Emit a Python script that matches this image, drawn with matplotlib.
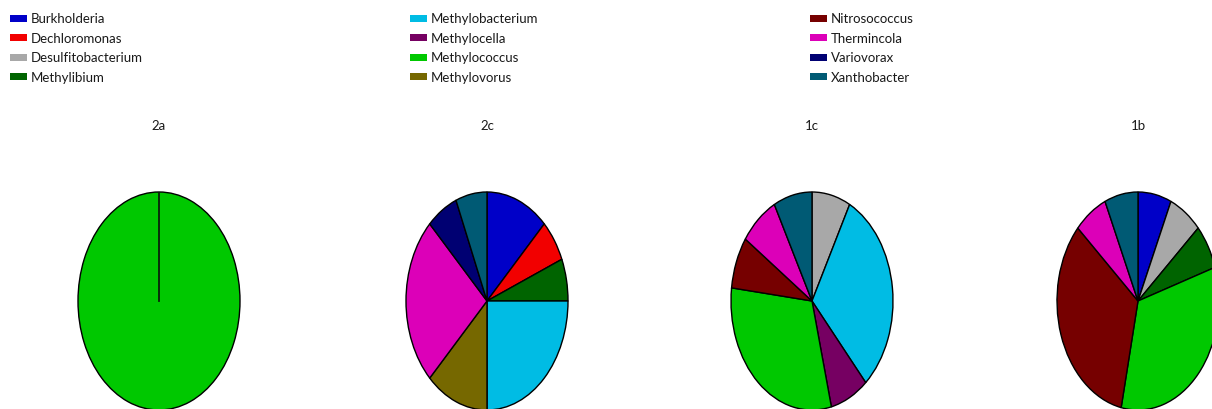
import numpy as np
import matplotlib
matplotlib.use("Agg")
import matplotlib.pyplot as plt
from matplotlib.patches import Rectangle

plt.rcParams['font.family'] = ['Lato', 'DejaVu Sans']

# genera, legend order
genera = ["Burkholderia", "Dechloromonas", "Desulfitobacterium", "Methylibium",
          "Methylobacterium", "Methylocella", "Methylococcus", "Methylovorus",
          "Nitrosococcus", "Thermincola", "Variovorax", "Xanthobacter"]
colors = ["#0000C8", "#F20000", "#A8A8A8", "#006400",
          "#00BCE4", "#760062", "#00C800", "#766800",
          "#760000", "#DC00B8", "#000072", "#005A74"]

# read counts per sample (0 = absent)
samples = ["2a", "2c", "1c", "1b"]
counts_2a = [0, 0, 0, 0, 0, 0, 1, 0, 0, 0, 0, 0]
counts_2c = [2, 1, 0, 1, 4, 0, 0, 2, 0, 4, 1, 1]
counts_1c = [0, 0, 1, 0, 4, 1, 4, 0, 1, 1, 0, 1]
counts_1b = [1, 0, 1, 1, 0, 0, 5, 0, 5, 1, 0, 1]
all_counts = [counts_2a, counts_2c, counts_1c, counts_1b]

W, H = 1212, 410
fig = plt.figure(figsize=(W / 100, H / 100), dpi=100)

# legend, three columns of four
for i, (name, col) in enumerate(zip(genera, colors)):
    x0 = 10 + 400 * (i // 4)
    y0 = 19 + 19.6 * (i % 4)
    fig.patches.append(Rectangle((x0 / W, 1 - (y0 + 3.5) / H), 17 / W, 7 / H,
                                 transform=fig.transFigure, facecolor=col,
                                 edgecolor='none'))
    fig.text((x0 + 21) / W, 1 - y0 / H, name, fontsize=9.5, color='#1A1A1A',
             va='center', ha='left')

# pies, stretched into ellipses
centers = [159, 487, 812, 1138]
rx, ry, cy = 81, 109, 302
for name, cx, counts in zip(samples, centers, all_counts):
    ax = fig.add_axes([(cx - rx) / W, (H - cy - ry) / H, 2 * rx / W, 2 * ry / H])
    vals = [c for c in counts if c > 0]
    cols = [colors[k] for k, c in enumerate(counts) if c > 0]
    ax.pie(vals, colors=cols, startangle=90, counterclock=False, radius=1,
           wedgeprops=dict(edgecolor='black', linewidth=1))
    if len(vals) == 1:
        # single wedge still shows its start edge
        a = np.deg2rad(90)
        ax.plot([0, np.cos(a)], [0, np.sin(a)], color='#0A200A', lw=1.3)
    ax.set_aspect('auto')
    ax.set_xlim(-1, 1)
    ax.set_ylim(-1, 1)
    ax.axis('off')
    for p in ax.patches:
        p.set_clip_on(False)
    fig.text(cx / W, 1 - 126 / H, name, fontsize=9.5, color='#1A1A1A',
             ha='center', va='center')

fig.savefig("out.png", dpi=100)
